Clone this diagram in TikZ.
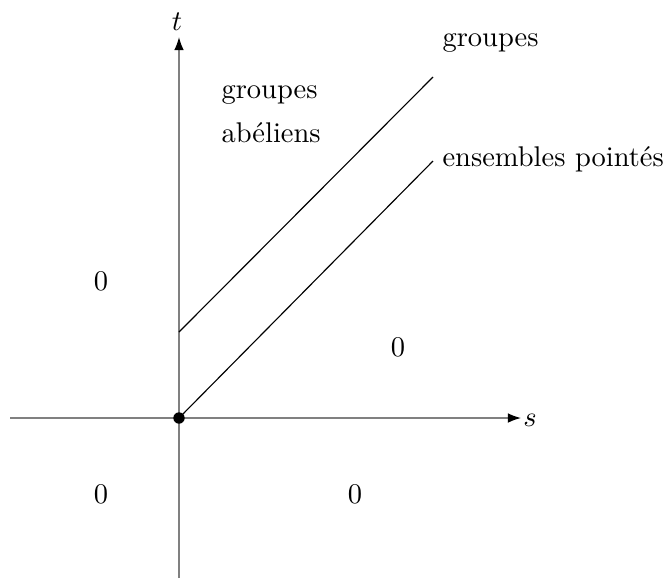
\documentclass[tikz,border=0pt]{standalone}
\usetikzlibrary{arrows.meta}
\begin{document}
\begin{tikzpicture}[x=0.351pt,y=-0.351pt,
  axis/.style={draw=black!50,line width=0.5pt,-{Latex[length=4.6pt,width=3.4pt,black]}},
  diag/.style={draw=black,line width=0.4pt},
  lbl/.style={inner sep=0pt,anchor=west,font=\normalsize}]
\useasboundingbox (0,0) rectangle (667,581);
% axes
\coordinate (xl) at (10,418);
\coordinate (xr) at (521,418);
\coordinate (yb) at (179,578);
\coordinate (yt) at (179,37);
\coordinate (O) at (179,418);
\coordinate (A) at (179,332);
\coordinate (B) at (433,77);
\coordinate (C) at (433,161);
\draw[axis] (xl) -- (xr);
\draw[axis] (yb) -- (yt);
\node (s) at (530,420) {$s$};
\node (t) at (177,22) {$t$};
\draw[diag] (A) -- (B);
\draw[diag] (O) -- (C);
\fill (O) circle (2.0pt);
\node[lbl] (g) at (442,43) {groupes};
\node[lbl] (e) at (442,159) {ensembles point\'es};
\node[lbl] (ab1) at (221,95) {groupes};
\node[lbl] (ab2) at (221,133) {ab\'eliens};
\node (z1) at (101,281) {0};
\node (z2) at (398,347) {0};
\node (z3) at (101,494) {0};
\node (z4) at (355,494) {0};
\end{tikzpicture}
\end{document}
